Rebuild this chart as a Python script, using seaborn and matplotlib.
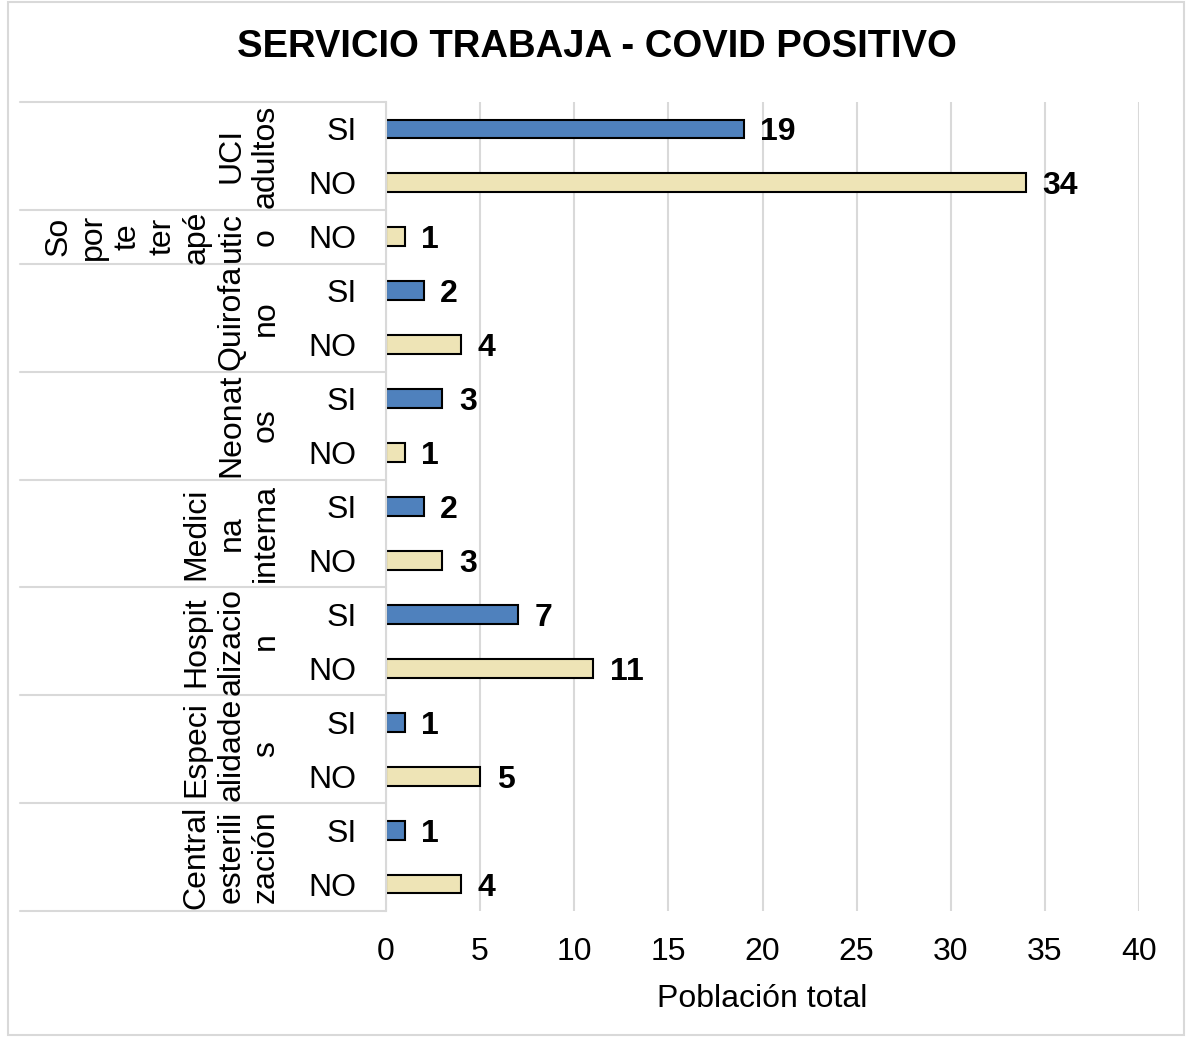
import numpy as np
import pandas as pd
import matplotlib
matplotlib.use("Agg")
import matplotlib.pyplot as plt
import matplotlib.transforms as mtransforms
import seaborn as sns

# datos (de arriba a abajo)
grupos = ["UCI adultos", "UCI adultos", "Soporte terapéutico", "Quirofano", "Quirofano",
          "Neonatos", "Neonatos", "Medicina interna", "Medicina interna",
          "Hospitalizacion", "Hospitalizacion", "Especialidades", "Especialidades",
          "Central esterilización", "Central esterilización"]
respuestas = ["SI", "NO", "NO", "SI", "NO", "SI", "NO", "SI", "NO",
              "SI", "NO", "SI", "NO", "SI", "NO"]
valores = [19, 34, 1, 2, 4, 3, 1, 2, 3, 7, 11, 1, 5, 1, 4]

# etiquetas de grupo tal como aparecen cortadas en el grafico
etiquetas_grupo = {
    "UCI adultos": "UCI\nadultos",
    "Soporte terapéutico": "So\npor\nte\nter\napé\nutic\no",
    "Quirofano": "Quirofa\nno",
    "Neonatos": "Neonat\nos",
    "Medicina interna": "Medici\nna\ninterna",
    "Hospitalizacion": "Hospit\nalizacio\nn",
    "Especialidades": "Especi\nalidade\ns",
    "Central esterilización": "Central\nesterili\nzación",
}

df = pd.DataFrame({"grupo": grupos, "respuesta": respuestas, "valor": valores})
df["fila"] = [f"{g}|{r}" for g, r in zip(grupos, respuestas)]

sns.set_style("white")
plt.rcParams["font.family"] = ["Liberation Sans", "DejaVu Sans"]
for k in ["text.color", "axes.labelcolor", "xtick.color", "ytick.color"]:
    plt.rcParams[k] = "black"

W, H = 1186, 1039
fs = 23
fig = plt.figure(figsize=(W / 100, H / 100), dpi=100)
ax = fig.add_axes([386 / W, 1 - 911 / H, (1139 - 386) / W, (911 - 102) / H])

gris = "#D9D9D9"
sns.barplot(data=df, x="valor", y="fila", hue="respuesta", order=list(df["fila"]),
            hue_order=["SI", "NO"], palette={"SI": "#4F81BD", "NO": "#EEE4B6"},
            dodge=False, width=0.35, edgecolor="black", linewidth=1.5, saturation=1,
            legend=False, orient="h", ax=ax)

for cont in ax.containers:
    textos = ax.bar_label(cont, padding=12, fontsize=fs, fontweight="bold")
    for t in textos:
        t.set_va("center_baseline")

ax.set_xlim(0, 40)
ax.set_ylim(len(valores) - 0.5, -0.5)
ax.set_xticks(np.arange(0, 41, 5))
ax.grid(axis="x", color=gris, linewidth=1.5)
ax.set_axisbelow(True)
for s in ["top", "right", "bottom"]:
    ax.spines[s].set_visible(False)
ax.spines["left"].set_color(gris)
ax.spines["left"].set_linewidth(1.5)

ax.set_yticks(range(len(respuestas)))
ax.set_yticklabels(respuestas)
ax.tick_params(axis="y", length=0, pad=21, labelsize=fs)
ax.tick_params(axis="x", length=0, pad=19, labelsize=fs)
ax.set_ylabel("")
ax.set_xlabel("Población total", fontsize=fs, labelpad=12)

# eje de categorias de dos niveles
trans = mtransforms.blended_transform_factory(ax.transAxes, ax.transData)
x_izq = (20 - 386) / (1139 - 386)
x_txt = (281 - 386) / (1139 - 386)
orden_grupos = list(dict.fromkeys(grupos))
limites = [-0.5]
for g in orden_grupos:
    idx = [i for i, gg in enumerate(grupos) if gg == g]
    limites.append(idx[-1] + 0.5)
    ax.text(x_txt, np.mean(idx), etiquetas_grupo[g], transform=trans, rotation=90,
            ha="right", va="center", multialignment="center", fontsize=fs,
            linespacing=1.2)
for y in limites:
    ax.plot([x_izq, 0], [y, y], transform=trans, color=gris, linewidth=1.5, clip_on=False)

fig.suptitle("SERVICIO TRABAJA - COVID POSITIVO", x=0.503, y=1 - 47 / H, va="center",
             fontsize=27.5, fontweight="bold")

# borde del area del grafico
fig.patches.append(plt.Rectangle((8 / W, 4 / H), (W - 10) / W, (H - 6) / H,
                                 transform=fig.transFigure, fill=False,
                                 edgecolor=gris, linewidth=1.5))

fig.savefig("out.png", dpi=100)
